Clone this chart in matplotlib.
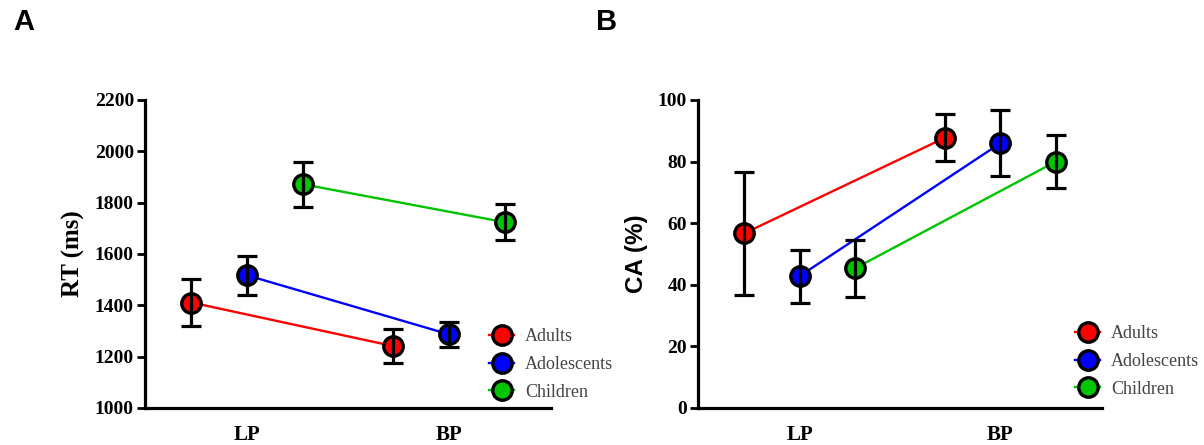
import matplotlib
matplotlib.use("Agg")
import matplotlib.pyplot as plt
from matplotlib.lines import Line2D
import numpy as np

categories = ['LP', 'BP']
groups = ['Adults', 'Adolescents', 'Children']
colors = ['#ff0000', '#0000ff', '#00c400']

rt_mean = {'Adults': [1411, 1241], 'Adolescents': [1517, 1287], 'Children': [1872, 1724]}
rt_err = {'Adults': [90, 65], 'Adolescents': [75, 50], 'Children': [87, 70]}

ca_mean = {'Adults': [56.7, 87.8], 'Adolescents': [42.8, 86.0], 'Children': [45.3, 80.0]}
ca_err = {'Adults': [20.0, 7.5], 'Adolescents': [8.6, 10.7], 'Children': [9.2, 8.5]}

rt_ticks = [1000, 1200, 1400, 1600, 1800, 2000, 2200]
ca_ticks = [0, 20, 40, 60, 80, 100]

W, H = 1204, 445
fig = plt.figure(figsize=(W / 100, H / 100), dpi=100)

serif = ['Liberation Serif', 'DejaVu Serif']
sans = ['Liberation Sans', 'DejaVu Sans']


def panel(rect, means, errs, ticks, ylabel, ylabel_family, ylabel_size, legend_anchor):
    ax = fig.add_axes(rect)
    x = np.arange(len(categories))
    offsets = [-0.275, 0.0, 0.275]
    for g, c, off in zip(groups, colors, offsets):
        xs = x + off
        ax.plot(xs, means[g], color=c, lw=1.7, zorder=2)
        ax.plot(xs, means[g], ls='none', marker='o', ms=14, mfc=c, mec='black',
                mew=2.4, zorder=3)
        ax.errorbar(xs, means[g], yerr=errs[g], fmt='none', ecolor='black',
                    elinewidth=2.3, capsize=7.5, capthick=2.3, zorder=4)
    ax.set_xlim(-0.505, 1.505)
    ax.set_ylim(ticks[0], ticks[-1])
    ax.set_yticks(ticks)
    ax.set_yticklabels([str(t) for t in ticks], fontfamily=serif, fontweight='bold',
                       fontsize=14)
    ax.set_xticks(x)
    ax.set_xticklabels(categories, fontfamily=serif, fontweight='bold', fontsize=15)
    ax.tick_params(axis='x', length=0, pad=12)
    ax.tick_params(axis='y', length=6, width=2.0, pad=2)
    for s in ['top', 'right']:
        ax.spines[s].set_visible(False)
    for s in ['left', 'bottom']:
        ax.spines[s].set_linewidth(2.3)
    ax.set_ylabel(ylabel, fontfamily=ylabel_family, fontweight='bold',
                  fontsize=ylabel_size, labelpad=7)
    handles = [Line2D([0], [0], color=c, lw=1.7, marker='o', ms=14, mfc=c,
                      mec='black', mew=2.4) for c in colors]
    leg = ax.legend(handles, groups, loc='upper left', bbox_to_anchor=legend_anchor,
                    bbox_transform=fig.transFigure, frameon=False,
                    handlelength=1.4, handletextpad=0.6, labelspacing=0.6,
                    borderpad=0, borderaxespad=0,
                    prop={'family': serif, 'size': 13})
    for t in leg.get_texts():
        t.set_color('#444444')
    return ax


bottom = 1 - 408 / H
height = (408 - 100) / H
axA = panel([145 / W, bottom, 406 / W, height], rt_mean, rt_err, rt_ticks,
            'RT (ms)', serif, 18, (489 / W, 1 - 328 / H))
axB = panel([698 / W, bottom, 404 / W, height], ca_mean, ca_err, ca_ticks,
            'CA (%)', sans, 17.5, (1075 / W, 1 - 325 / H))

fig.text(24 / W, 1 - 22 / H, 'A', fontfamily=sans, fontweight='heavy', fontsize=21,
         ha='center', va='center')
fig.text(607 / W, 1 - 22 / H, 'B', fontfamily=sans, fontweight='heavy', fontsize=21,
         ha='center', va='center')

fig.savefig('out.png', dpi=100)
